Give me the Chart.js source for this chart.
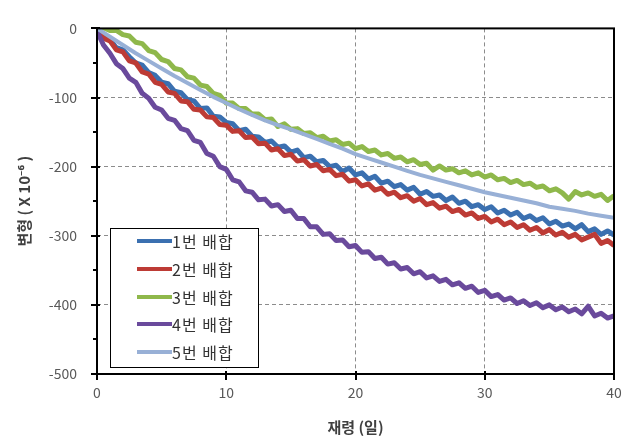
<!DOCTYPE html>
<html>
<head>
<meta charset="utf-8">
<script src="https://cdn.jsdelivr.net/npm/chart.js@4/dist/chart.umd.min.js"></script>
<style>
html,body{margin:0;padding:0;background:#fff;}
#wrap{width:636px;height:442px;position:relative;}
</style>
</head>
<body>
<div id="wrap"><canvas id="c" width="636" height="442"></canvas></div>
<script>
// ---- data ----
const seriesNames = ['1번 배합', '2번 배합', '3번 배합', '4번 배합', '5번 배합'];
const seriesColors = ['#3b70b0', '#bd3b35', '#8fb84b', '#6a4a9c', '#98b0d6'];

const daysHalf = [0,0.5,1,1.5,2,2.5,3,3.5,4,4.5,5,5.5,6,6.5,7,7.5,8,8.5,9,9.5,10,10.5,11,11.5,12,12.5,13,13.5,14,14.5,15,15.5,16,16.5,17,17.5,18,18.5,19,19.5,20,20.5,21,21.5,22,22.5,23,23.5,24,24.5,25,25.5,26,26.5,27,27.5,28,28.5,29,29.5,30,30.5,31,31.5,32,32.5,33,33.5,34,34.5,35,35.5,36,36.5,37,37.5,38,38.5,39,39.5,40];
const daysInt = [0,1,2,3,4,5,6,7,8,9,10,11,12,13,14,15,16,17,18,19,20,21,22,23,24,25,26,27,28,29,30,31,32,33,34,35,36,37,38,39,40];

const mix1 = [-2,-12,-16,-28,-31,-41,-50,-53,-64,-68,-78,-80,-91,-93,-103,-105,-116,-115,-127,-128,-136,-138,-148,-146,-156,-157,-165,-163,-172,-170,-179,-176,-187,-185,-193,-191,-200,-198,-207,-202,-212,-209,-218,-214,-224,-221,-229,-226,-234,-230,-240,-236,-243,-241,-249,-244,-253,-250,-258,-255,-262,-258,-267,-263,-270,-266,-275,-271,-278,-274,-283,-279,-286,-283,-290,-284,-294,-290,-298,-293,-299];
const mix2 = [-2,-14,-18,-31,-34,-47,-50,-63,-66,-78,-81,-92,-94,-105,-106,-117,-118,-128,-129,-139,-140,-149,-148,-158,-157,-167,-166,-176,-174,-184,-182,-192,-190,-199,-197,-206,-204,-213,-211,-221,-219,-228,-225,-234,-231,-240,-237,-245,-242,-250,-246,-255,-252,-260,-257,-265,-262,-270,-267,-275,-272,-280,-276,-284,-280,-288,-284,-292,-288,-296,-291,-299,-295,-302,-298,-306,-302,-298,-311,-307,-314];
const mix3 = [0,1,-3,-3,-9,-11,-20,-22,-32,-35,-45,-48,-58,-60,-70,-72,-82,-84,-94,-97,-108,-108,-116,-116,-124,-124,-132,-131,-142,-138,-146,-145,-152,-151,-158,-156,-163,-161,-168,-166,-174,-171,-178,-176,-183,-181,-188,-186,-193,-190,-197,-195,-205,-199,-205,-203,-209,-206,-212,-209,-215,-212,-219,-217,-223,-220,-226,-224,-230,-228,-235,-232,-238,-247,-236,-241,-238,-243,-240,-249,-242];
const mix4 = [-4,-24,-36,-51,-58,-72,-78,-94,-101,-114,-118,-130,-133,-145,-148,-162,-165,-181,-185,-200,-204,-219,-222,-235,-237,-248,-247,-257,-255,-265,-263,-275,-275,-287,-287,-298,-297,-307,-306,-316,-314,-324,-323,-333,-331,-341,-339,-348,-346,-355,-352,-361,-358,-366,-363,-371,-368,-376,-373,-382,-379,-388,-385,-393,-390,-398,-394,-401,-397,-404,-400,-407,-403,-410,-406,-413,-402,-416,-412,-419,-416];
const mix5 = [0,-12,-24,-36,-47,-58,-69,-79,-89,-99,-108,-117,-125,-133,-140,-146,-153,-160,-167,-174,-182,-188,-194,-200,-206,-212,-217,-222,-227,-232,-237,-241,-245,-249,-253,-258,-261,-264,-268,-271,-274];

const xTicks = [0, 10, 20, 30, 40];
const yTicks = [0, -100, -200, -300, -400, -500];
const yMinorTicks = [-50, -150, -250, -350, -450];

// ---- build datasets ----
const seriesData = [mix1, mix2, mix3, mix4, mix5];
const seriesX = [daysHalf, daysHalf, daysHalf, daysHalf, daysInt];
const datasets = seriesData.map((arr, i) => ({
  label: seriesNames[i],
  data: arr.map((v, k) => ({x: seriesX[i][k], y: v})),
  borderColor: seriesColors[i],
  backgroundColor: seriesColors[i],
  borderWidth: i === 4 ? 4 : 5,
  borderJoinStyle: 'round',
  pointRadius: 0,
  showLine: true,
  tension: 0,
  order: 5 - i
}));

const FONT = "'Noto Sans CJK KR', 'Noto Sans', sans-serif";

const framePlugin = {
  id: 'frame',
  afterDatasetsDraw(chart) {
    const {ctx, chartArea: a, scales} = chart;
    ctx.save();
    ctx.strokeStyle = '#000';
    ctx.lineWidth = 2;
    ctx.strokeRect(a.left, a.top, a.right - a.left, a.bottom - a.top);
    ctx.lineWidth = 2;
    ctx.beginPath();
    yTicks.forEach(v => {
      const y = Math.round(scales.y.getPixelForValue(v));
      ctx.moveTo(a.left - 6, y); ctx.lineTo(a.left + 3, y);
    });
    yMinorTicks.forEach(v => {
      const y = Math.round(scales.y.getPixelForValue(v));
      ctx.moveTo(a.left - 4, y); ctx.lineTo(a.left, y);
    });
    xTicks.forEach(v => {
      const x = Math.round(scales.x.getPixelForValue(v));
      ctx.moveTo(x, a.bottom - 3); ctx.lineTo(x, a.bottom + 6);
    });
    ctx.stroke();

    // legend
    const lx = 110, ly = 228, lw = 148, lh = 139;
    ctx.fillStyle = '#fff';
    ctx.fillRect(lx, ly, lw, lh);
    ctx.lineWidth = 1;
    ctx.strokeStyle = '#000';
    ctx.strokeRect(lx + 0.5, ly + 0.5, lw, lh);
    const rows = [241, 269, 297, 324, 352];
    chart.data.datasets.forEach((ds, i) => {
      const y = rows[i];
      ctx.strokeStyle = ds.borderColor;
      ctx.lineWidth = 4;
      ctx.beginPath();
      ctx.moveTo(137, y); ctx.lineTo(172, y);
      ctx.stroke();
      ctx.fillStyle = '#333';
      ctx.font = '16px ' + FONT;
      ctx.textBaseline = 'middle';
      ctx.textAlign = 'left';
      if ('letterSpacing' in ctx) ctx.letterSpacing = '1px';
      ctx.fillText(ds.label, 172, y + 1);
    });
    ctx.restore();
  }
};

new Chart(document.getElementById('c'), {
  type: 'scatter',
  data: {datasets},
  options: {
    responsive: false,
    animation: false,
    layout: {padding: {top: 13, right: 22, left: 0, bottom: 0}},
    plugins: {legend: {display: false}, tooltip: {enabled: false}},
    scales: {
      x: {
        type: 'linear', min: 0, max: 40,
        afterFit(s) { s.height = 68; },
        afterBuildTicks(s) { s.ticks = xTicks.map(v => ({value: v})); },
        border: {display: false, dash: [4, 3]},
        grid: {
          drawTicks: false,
          color: c => (c.tick && (c.tick.value === 0 || c.tick.value === 40)) ? 'rgba(0,0,0,0)' : '#8c8c8c',
          lineWidth: 1
        },
        ticks: {padding: 10, color: '#595959', font: {family: FONT, size: 14}},
        title: {display: true, text: '재령 (일)', color: '#404040', font: {family: FONT, size: 15, weight: 'bold'}, padding: {top: 0, bottom: 6}}
      },
      y: {
        type: 'linear', min: -500, max: 0,
        afterFit(s) { s.width = 97; },
        afterBuildTicks(s) { s.ticks = yTicks.map(v => ({value: v})); },
        border: {display: false, dash: [4, 3]},
        grid: {
          drawTicks: false,
          color: c => (c.tick && (c.tick.value === 0 || c.tick.value === -500)) ? 'rgba(0,0,0,0)' : '#8c8c8c',
          lineWidth: 1
        },
        ticks: {padding: 20, color: '#595959', font: {family: FONT, size: 14}},
        title: {display: true, text: '변형 ( X 10⁻⁶ )', color: '#404040', font: {family: FONT, size: 15, weight: 'bold'}, padding: {top: 15, bottom: 0}}
      }
    }
  },
  plugins: [framePlugin]
});
</script>
</body>
</html>
